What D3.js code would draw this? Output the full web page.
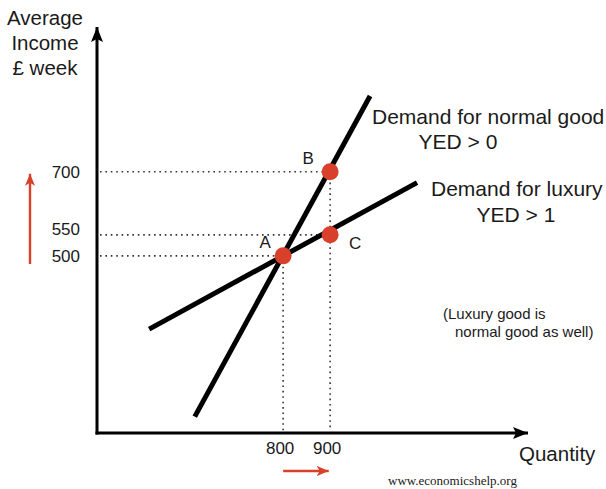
<!DOCTYPE html>
<html>
<head>
<meta charset="utf-8">
<script src="https://cdn.jsdelivr.net/npm/d3@7"></script>
<style>
  body { margin: 0; background: #fff; }
  text { font-family: Arial, "Liberation Sans", sans-serif; fill: #1a1a1a; }
</style>
</head>
<body>
<script>
/* -------------------------------- data -------------------------------- */
const pointLabels = ["A", "B", "C"];
const pointQuantity = [800, 900, 900];
const pointIncome = [500, 700, 550];

const incomeTicks = [500, 550, 700];
const quantityTicks = [800, 900];

// demand curves, end points as [quantity, income]
const normalQuantity = [612, 985];
const normalIncome = [118, 880];
const luxuryQuantity = [515, 1085];
const luxuryIncome = [326, 674];

/* ---------------------------- document size ---------------------------- */
const width = 606, height = 489;
const red = "#d9402b";

const svg = d3.select("body").append("svg")
    .attr("width", width).attr("height", height);

const defs = svg.append("defs");
function arrowMarker(id, color, w, h) {
    defs.append("marker")
        .attr("id", id)
        .attr("viewBox", `0 0 ${w} ${h}`)
        .attr("refX", w).attr("refY", h / 2)
        .attr("markerWidth", w).attr("markerHeight", h)
        .attr("markerUnits", "userSpaceOnUse")
        .attr("orient", "auto")
        .append("path")
        .attr("d", `M0,0L${w},${h / 2}L0,${h}L3,${h / 2}Z`)
        .attr("fill", color);
}
arrowMarker("axisArrow", "#000", 15, 12);
arrowMarker("redArrow", red, 12, 10);

/* -------------------------------- scales -------------------------------- */
const x = d3.scaleLinear().domain([404, 1321]).range([97, 528]);
const y = d3.scaleLinear().domain([79, 1044]).range([433, 27]);

const points = pointLabels.map((l, i) => ({ label: l, q: pointQuantity[i], v: pointIncome[i] }));

/* ---------------------------- dotted guides ---------------------------- */
const guides = svg.append("g")
    .attr("stroke", "#333")
    .attr("stroke-width", 1.6)
    .attr("stroke-dasharray", "1.6,3.8")
    .attr("fill", "none");
// horizontal: from the income axis to each point
guides.selectAll("line.h").data(points).enter().append("line")
    .attr("x1", x(x.domain()[0]) + 3).attr("x2", d => x(d.q))
    .attr("y1", d => y(d.v)).attr("y2", d => y(d.v));
// vertical: from each quantity tick down to the axis
guides.selectAll("line.v").data(quantityTicks).enter().append("line")
    .attr("x1", d => x(d)).attr("x2", d => x(d))
    .attr("y1", d => y(d3.max(points.filter(p => p.q === d), p => p.v)))
    .attr("y2", y(y.domain()[0]) - 2);

/* -------------------------------- axes -------------------------------- */
svg.append("line")
    .attr("x1", x(x.domain()[0])).attr("x2", x(x.domain()[0]))
    .attr("y1", y(y.domain()[0]) + 1.5).attr("y2", y(y.domain()[1]))
    .attr("stroke", "#000").attr("stroke-width", 3)
    .attr("marker-end", "url(#axisArrow)");
svg.append("line")
    .attr("x1", x(x.domain()[0]) - 1.5).attr("x2", x(x.domain()[1]))
    .attr("y1", y(y.domain()[0])).attr("y2", y(y.domain()[0]))
    .attr("stroke", "#000").attr("stroke-width", 3)
    .attr("marker-end", "url(#axisArrow)");

// tick labels
svg.selectAll("text.ytick").data(incomeTicks).enter().append("text")
    .attr("x", 80)
    .attr("y", d => y(d) + (d === 550 ? 0 : 6))
    .attr("text-anchor", "end")
    .attr("font-size", 17)
    .text(d => d);
svg.selectAll("text.xtick").data(quantityTicks).enter().append("text")
    .attr("x", d => x(d) - 3)
    .attr("y", 454)
    .attr("text-anchor", "middle")
    .attr("font-size", 17)
    .text(d => d);

/* ---------------------------- demand curves ---------------------------- */
const curves = [
    { q: normalQuantity, v: normalIncome },
    { q: luxuryQuantity, v: luxuryIncome }
];
svg.selectAll("line.curve").data(curves).enter().append("line")
    .attr("x1", d => x(d.q[0])).attr("y1", d => y(d.v[0]))
    .attr("x2", d => x(d.q[1])).attr("y2", d => y(d.v[1]))
    .attr("stroke", "#000").attr("stroke-width", 5);

/* -------------------------------- points -------------------------------- */
svg.selectAll("circle.pt").data(points).enter().append("circle")
    .attr("cx", d => x(d.q)).attr("cy", d => y(d.v))
    .attr("r", 8.5)
    .attr("fill", red);

const labelOffset = { A: [-18, -8], B: [-22, -8], C: [25, 14] };
svg.selectAll("text.pt").data(points).enter().append("text")
    .attr("x", d => x(d.q) + labelOffset[d.label][0])
    .attr("y", d => y(d.v) + labelOffset[d.label][1])
    .attr("text-anchor", "middle")
    .attr("font-size", 17)
    .text(d => d.label);

/* ----------------------------- red arrows ----------------------------- */
svg.append("line")
    .attr("x1", 30).attr("x2", 30)
    .attr("y1", 264).attr("y2", y(700) + 2)
    .attr("stroke", red).attr("stroke-width", 2.4)
    .attr("marker-end", "url(#redArrow)");
svg.append("line")
    .attr("x1", x(800)).attr("x2", x(897))
    .attr("y1", 471).attr("y2", 471)
    .attr("stroke", red).attr("stroke-width", 2.4)
    .attr("marker-end", "url(#redArrow)");

/* -------------------------------- labels -------------------------------- */
const titleLines = ["Average", "Income", "£ week"];
svg.selectAll("text.title").data(titleLines).enter().append("text")
    .attr("x", 45)
    .attr("y", (d, i) => 25 + i * 25)
    .attr("text-anchor", "middle")
    .attr("font-size", 20.5)
    .text(d => d);

svg.append("text").attr("x", 372).attr("y", 124).attr("font-size", 21)
    .text("Demand for normal good");
svg.append("text").attr("x", 458).attr("y", 149).attr("font-size", 21)
    .attr("text-anchor", "middle").text("YED > 0");
svg.append("text").attr("x", 431).attr("y", 196).attr("font-size", 21)
    .text("Demand for luxury");
svg.append("text").attr("x", 516).attr("y", 222).attr("font-size", 21)
    .attr("text-anchor", "middle").text("YED > 1");

svg.append("text").attr("x", 443).attr("y", 319).attr("font-size", 15)
    .text("(Luxury good is");
svg.append("text").attr("x", 455).attr("y", 337).attr("font-size", 15)
    .text("normal good as well)");

svg.append("text").attr("x", 519).attr("y", 461).attr("font-size", 20.5)
    .text("Quantity");
svg.append("text").attr("x", 388).attr("y", 485)
    .attr("font-size", 13)
    .style("font-family", "'Liberation Serif', 'DejaVu Serif', serif")
    .text("www.economicshelp.org");
</script>
</body>
</html>
